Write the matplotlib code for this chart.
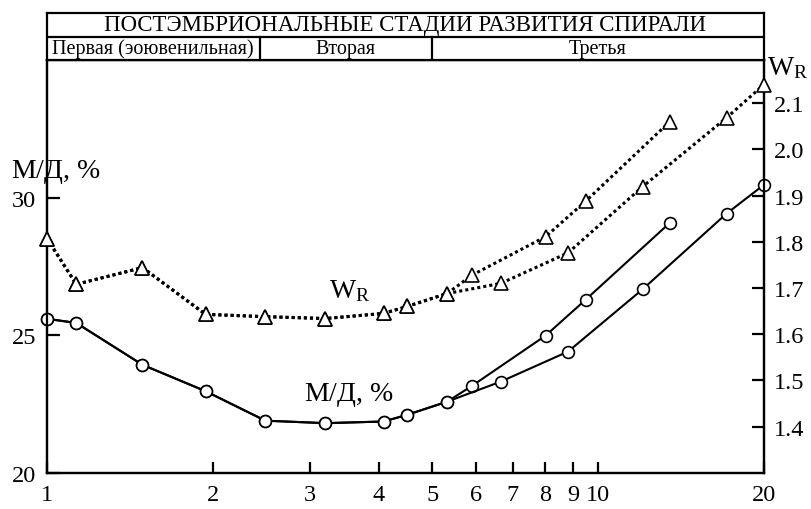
import numpy as np
import matplotlib
matplotlib.use("Agg")
import matplotlib.pyplot as plt

plt.rcParams['font.family'] = ['Liberation Serif', 'DejaVu Serif']
plt.rcParams['mathtext.fontset'] = 'custom'
plt.rcParams['mathtext.rm'] = 'Liberation Serif'
plt.rcParams['mathtext.it'] = 'Liberation Serif:italic'

# shared part of the growth curve, then two branches
x_common = [1.0, 1.13, 1.49, 1.94, 2.49, 3.2, 4.08, 4.5, 5.32]
x_a = [5.91, 8.03, 9.5, 13.5]
x_b = [6.66, 8.82, 12.04, 17.1, 20.0]

md_common = [25.6, 25.45, 23.93, 22.97, 21.9, 21.81, 21.87, 22.11, 22.59]
md_a = [23.17, 24.99, 26.30, 29.09]
md_b = [23.32, 24.41, 26.67, 29.42, 30.47]

wr_common = [1.807, 1.708, 1.744, 1.643, 1.638, 1.634, 1.645, 1.660, 1.688]
wr_a = [1.728, 1.811, 1.888, 2.060]
wr_b = [1.710, 1.776, 1.919, 2.068, 2.140]

xticks = [1, 2, 3, 4, 5, 6, 7, 8, 9, 10, 20]
left_ticks = [20, 25, 30]
right_ticks = [1.4, 1.5, 1.6, 1.7, 1.8, 1.9, 2.0, 2.1]

stage_bounds = [1, 2.43, 5, 20]
stage_names = ['Первая (эоювенильная)', 'Вторая', 'Третья']
header_title = 'ПОСТЭМБРИОНАЛЬНЫЕ СТАДИИ РАЗВИТИЯ СПИРАЛИ'

fig = plt.figure(figsize=(8.12, 5.10), dpi=100)
ax = fig.add_axes([0.0579, 0.0706, 0.8830, 0.8098])
ax2 = ax.twinx()
hdr = fig.add_axes([0.0579, 0.8804, 0.8830, 0.0921])

lw_sp = 1.6
fs = 17.5
fs_lab = 20

# M/D, % (left axis)
for xs, ys in [(x_common + x_a, md_common + md_a), (x_common + x_b, md_common + md_b)]:
    ax.plot(xs, ys, color='black', lw=1.5, marker='o', ms=8.5, mfc='white',
            mec='black', mew=1.2, clip_on=False, zorder=3)

# W_R (right axis)
for xs, ys in [(x_common + x_a, wr_common + wr_a), (x_common + x_b, wr_common + wr_b)]:
    ax2.plot(xs, ys, color='black', lw=2.2, ls=(0, (1, 1)), marker='^', ms=10,
             mfc='white', mec='black', mew=1.2, clip_on=False, zorder=3)

ax.set_xscale('log')
ax.set_xlim(1, 20)
ax.set_ylim(20, 35)
ax2.set_ylim(1.30, 2.193)
ax.set_xticks(xticks)
ax.set_xticklabels([str(t) for t in xticks])
ax.xaxis.set_minor_locator(matplotlib.ticker.NullLocator())
ax.set_yticks(left_ticks)
ax.set_yticklabels([str(t) for t in left_ticks])
ax2.set_yticks(right_ticks)
ax2.set_yticklabels([f'{t:.1f}' for t in right_ticks])

ax.tick_params(axis='x', direction='in', length=8, width=lw_sp, labelsize=fs, pad=8)
ax.tick_params(axis='y', direction='in', length=9, width=lw_sp, labelsize=fs, pad=8)
ax2.tick_params(axis='y', direction='in', length=9, width=lw_sp, labelsize=fs, pad=7)
for a in (ax, ax2, hdr):
    for s in a.spines.values():
        s.set_linewidth(lw_sp)

ax.text(0.422, 0.443, r'W$_\mathrm{R}$', transform=ax.transAxes, fontsize=fs_lab,
        ha='center', va='center')
ax.text(0.421, 0.191, r'М/Д, $\mathit{\%}$', transform=ax.transAxes, fontsize=fs_lab,
        ha='center', va='center')
fig.text(0.069, 0.663, r'М/Д, $\mathit{\%}$', fontsize=fs_lab, ha='center', va='center')
fig.text(0.9446, 0.866, r'W$_\mathrm{R}$', fontsize=fs_lab, ha='left', va='center')

# header with stages
hdr.set_xscale('log')
hdr.set_xlim(1, 20)
hdr.set_ylim(0, 2)
hdr.set_xticks([])
hdr.set_yticks([])
hdr.xaxis.set_minor_locator(matplotlib.ticker.NullLocator())
hdr.axhline(1, color='black', lw=lw_sp)
for b in stage_bounds[1:-1]:
    hdr.plot([b, b], [0, 1], color='black', lw=lw_sp)
hdr.text(0.5, 0.75, header_title, transform=hdr.transAxes, fontsize=16.5,
         ha='center', va='center')
for i, name in enumerate(stage_names):
    xc = np.sqrt(stage_bounds[i] * stage_bounds[i + 1])
    hdr.text(xc, 0.5, name, fontsize=14.5, ha='center', va='center')

fig.savefig('out.png', dpi=100)
